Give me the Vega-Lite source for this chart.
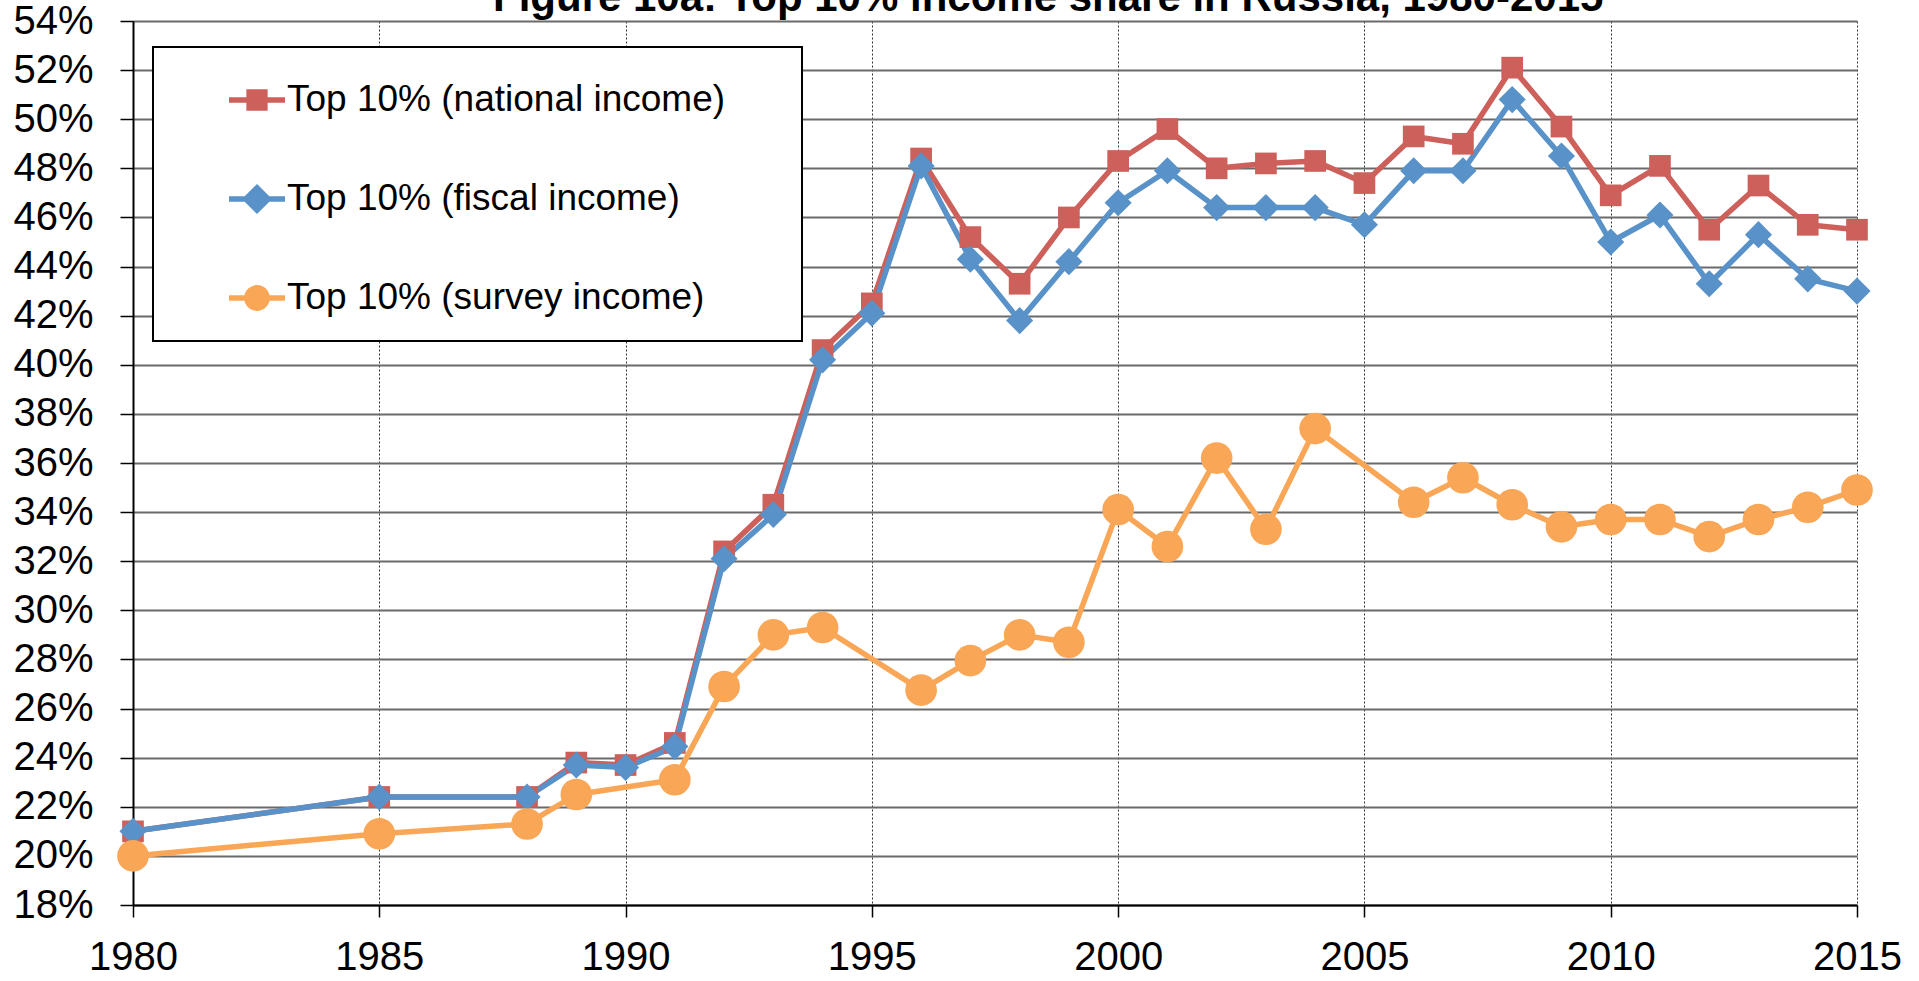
{
  "$schema": "https://vega.github.io/schema/vega-lite/v6.json",
  "width": 1724,
  "height": 884,
  "autosize": {"type": "none"},
  "padding": {"left": 133, "top": 21, "right": 62, "bottom": 76},
  "background": "white",
  "title": {
    "text": "Figure 10a: Top 10% income share in Russia, 1980-2015",
    "anchor": "start",
    "frame": "group",
    "dx": 360,
    "dy": 52,
    "offset": 0,
    "baseline": "alphabetic",
    "font": "Liberation Sans",
    "fontSize": 42,
    "fontWeight": "bold",
    "color": "black"
  },
  "data": {
    "values": [
      {"year": 1980, "series": "Top 10% (national income)", "value": 21.0},
      {"year": 1985, "series": "Top 10% (national income)", "value": 22.4},
      {"year": 1988, "series": "Top 10% (national income)", "value": 22.4},
      {"year": 1989, "series": "Top 10% (national income)", "value": 23.8},
      {"year": 1990, "series": "Top 10% (national income)", "value": 23.7},
      {"year": 1991, "series": "Top 10% (national income)", "value": 24.6},
      {"year": 1992, "series": "Top 10% (national income)", "value": 32.4},
      {"year": 1993, "series": "Top 10% (national income)", "value": 34.3},
      {"year": 1994, "series": "Top 10% (national income)", "value": 40.6},
      {"year": 1995, "series": "Top 10% (national income)", "value": 42.5},
      {"year": 1996, "series": "Top 10% (national income)", "value": 48.4},
      {"year": 1997, "series": "Top 10% (national income)", "value": 45.2},
      {"year": 1998, "series": "Top 10% (national income)", "value": 43.3},
      {"year": 1999, "series": "Top 10% (national income)", "value": 46.0},
      {"year": 2000, "series": "Top 10% (national income)", "value": 48.3},
      {"year": 2001, "series": "Top 10% (national income)", "value": 49.6},
      {"year": 2002, "series": "Top 10% (national income)", "value": 48.0},
      {"year": 2003, "series": "Top 10% (national income)", "value": 48.2},
      {"year": 2004, "series": "Top 10% (national income)", "value": 48.3},
      {"year": 2005, "series": "Top 10% (national income)", "value": 47.4},
      {"year": 2006, "series": "Top 10% (national income)", "value": 49.3},
      {"year": 2007, "series": "Top 10% (national income)", "value": 49.0},
      {"year": 2008, "series": "Top 10% (national income)", "value": 52.1},
      {"year": 2009, "series": "Top 10% (national income)", "value": 49.7},
      {"year": 2010, "series": "Top 10% (national income)", "value": 46.9},
      {"year": 2011, "series": "Top 10% (national income)", "value": 48.1},
      {"year": 2012, "series": "Top 10% (national income)", "value": 45.5},
      {"year": 2013, "series": "Top 10% (national income)", "value": 47.3},
      {"year": 2014, "series": "Top 10% (national income)", "value": 45.7},
      {"year": 2015, "series": "Top 10% (national income)", "value": 45.5},
      {"year": 1980, "series": "Top 10% (fiscal income)", "value": 21.0},
      {"year": 1985, "series": "Top 10% (fiscal income)", "value": 22.4},
      {"year": 1988, "series": "Top 10% (fiscal income)", "value": 22.4},
      {"year": 1989, "series": "Top 10% (fiscal income)", "value": 23.7},
      {"year": 1990, "series": "Top 10% (fiscal income)", "value": 23.6},
      {"year": 1991, "series": "Top 10% (fiscal income)", "value": 24.45},
      {"year": 1992, "series": "Top 10% (fiscal income)", "value": 32.1},
      {"year": 1993, "series": "Top 10% (fiscal income)", "value": 33.9},
      {"year": 1994, "series": "Top 10% (fiscal income)", "value": 40.2},
      {"year": 1995, "series": "Top 10% (fiscal income)", "value": 42.1},
      {"year": 1996, "series": "Top 10% (fiscal income)", "value": 48.1},
      {"year": 1997, "series": "Top 10% (fiscal income)", "value": 44.3},
      {"year": 1998, "series": "Top 10% (fiscal income)", "value": 41.8},
      {"year": 1999, "series": "Top 10% (fiscal income)", "value": 44.2},
      {"year": 2000, "series": "Top 10% (fiscal income)", "value": 46.6},
      {"year": 2001, "series": "Top 10% (fiscal income)", "value": 47.9},
      {"year": 2002, "series": "Top 10% (fiscal income)", "value": 46.4},
      {"year": 2003, "series": "Top 10% (fiscal income)", "value": 46.4},
      {"year": 2004, "series": "Top 10% (fiscal income)", "value": 46.4},
      {"year": 2005, "series": "Top 10% (fiscal income)", "value": 45.7},
      {"year": 2006, "series": "Top 10% (fiscal income)", "value": 47.9},
      {"year": 2007, "series": "Top 10% (fiscal income)", "value": 47.9},
      {"year": 2008, "series": "Top 10% (fiscal income)", "value": 50.8},
      {"year": 2009, "series": "Top 10% (fiscal income)", "value": 48.5},
      {"year": 2010, "series": "Top 10% (fiscal income)", "value": 45.0},
      {"year": 2011, "series": "Top 10% (fiscal income)", "value": 46.1},
      {"year": 2012, "series": "Top 10% (fiscal income)", "value": 43.3},
      {"year": 2013, "series": "Top 10% (fiscal income)", "value": 45.3},
      {"year": 2014, "series": "Top 10% (fiscal income)", "value": 43.5},
      {"year": 2015, "series": "Top 10% (fiscal income)", "value": 43.0},
      {"year": 1980, "series": "Top 10% (survey income)", "value": 20.0},
      {"year": 1985, "series": "Top 10% (survey income)", "value": 20.9},
      {"year": 1988, "series": "Top 10% (survey income)", "value": 21.3},
      {"year": 1989, "series": "Top 10% (survey income)", "value": 22.5},
      {"year": 1991, "series": "Top 10% (survey income)", "value": 23.1},
      {"year": 1992, "series": "Top 10% (survey income)", "value": 26.9},
      {"year": 1993, "series": "Top 10% (survey income)", "value": 29.0},
      {"year": 1994, "series": "Top 10% (survey income)", "value": 29.3},
      {"year": 1996, "series": "Top 10% (survey income)", "value": 26.75},
      {"year": 1997, "series": "Top 10% (survey income)", "value": 27.95},
      {"year": 1998, "series": "Top 10% (survey income)", "value": 29.0},
      {"year": 1999, "series": "Top 10% (survey income)", "value": 28.7},
      {"year": 2000, "series": "Top 10% (survey income)", "value": 34.1},
      {"year": 2001, "series": "Top 10% (survey income)", "value": 32.6},
      {"year": 2002, "series": "Top 10% (survey income)", "value": 36.2},
      {"year": 2003, "series": "Top 10% (survey income)", "value": 33.3},
      {"year": 2004, "series": "Top 10% (survey income)", "value": 37.4},
      {"year": 2006, "series": "Top 10% (survey income)", "value": 34.4},
      {"year": 2007, "series": "Top 10% (survey income)", "value": 35.4},
      {"year": 2008, "series": "Top 10% (survey income)", "value": 34.3},
      {"year": 2009, "series": "Top 10% (survey income)", "value": 33.4},
      {"year": 2010, "series": "Top 10% (survey income)", "value": 33.7},
      {"year": 2011, "series": "Top 10% (survey income)", "value": 33.7},
      {"year": 2012, "series": "Top 10% (survey income)", "value": 33.0},
      {"year": 2013, "series": "Top 10% (survey income)", "value": 33.7},
      {"year": 2014, "series": "Top 10% (survey income)", "value": 34.2},
      {"year": 2015, "series": "Top 10% (survey income)", "value": 34.9}
    ]
  },
  "encoding": {
    "x": {
      "field": "year",
      "type": "quantitative",
      "scale": {"domain": [1980, 2015], "nice": false, "zero": false},
      "axis": {
        "title": null,
        "values": [1980, 1985, 1990, 1995, 2000, 2005, 2010, 2015],
        "format": "d",
        "grid": true,
        "gridDash": [2, 2],
        "gridColor": "#333333",
        "gridWidth": 1,
        "tickSize": 12,
        "labelPadding": 20,
        "labelFlush": false,
        "labelOverlap": false
      }
    },
    "y": {
      "field": "value",
      "type": "quantitative",
      "scale": {"domain": [18, 54], "nice": false, "zero": false},
      "axis": {
        "title": null,
        "values": [18, 20, 22, 24, 26, 28, 30, 32, 34, 36, 38, 40, 42, 44, 46, 48, 50, 52, 54],
        "labelExpr": "datum.value + '%'",
        "grid": true,
        "gridColor": "#6a6a6a",
        "gridWidth": 2,
        "tickSize": 13,
        "labelPadding": 27,
        "labelFlush": false,
        "labelOverlap": false
      }
    }
  },
  "layer": [
    {
      "mark": {"type": "line", "strokeWidth": 5.5, "strokeJoin": "round"},
      "encoding": {
        "color": {
          "field": "series",
          "type": "nominal",
          "scale": {
            "domain": ["Top 10% (national income)", "Top 10% (fiscal income)", "Top 10% (survey income)"],
            "range": ["#CD605A", "#5892C8", "#F9A656"]
          },
          "legend": null
        }
      }
    },
    {
      "mark": {"type": "point", "filled": true, "opacity": 1},
      "encoding": {
        "color": {
          "field": "series",
          "type": "nominal",
          "scale": {
            "domain": ["Top 10% (national income)", "Top 10% (fiscal income)", "Top 10% (survey income)"],
            "range": ["#CD605A", "#5892C8", "#F9A656"]
          },
          "legend": null
        },
        "shape": {
          "field": "series",
          "type": "nominal",
          "scale": {
            "domain": ["Top 10% (national income)", "Top 10% (fiscal income)", "Top 10% (survey income)"],
            "range": ["square", "diamond", "circle"]
          },
          "legend": null
        },
        "size": {
          "field": "series",
          "type": "nominal",
          "scale": {
            "domain": ["Top 10% (national income)", "Top 10% (fiscal income)", "Top 10% (survey income)"],
            "range": [470, 1000, 660]
          },
          "legend": null
        }
      }
    },
    {
      "transform": [{"filter": "datum.year < 0"}],
      "mark": {"type": "point", "filled": true, "opacity": 1},
      "encoding": {
        "color": {
          "field": "series",
          "type": "nominal",
          "scale": {
            "domain": ["Top 10% (national income)", "Top 10% (fiscal income)", "Top 10% (survey income)"],
            "range": ["#CD605A", "#5892C8", "#F9A656"]
          },
          "legend": {
            "orient": "none",
            "legendX": 20,
            "legendY": 26,
            "title": "\u00a0",
            "titleOrient": "right",
            "titlePadding": 52,
            "titleFontSize": 4,
            "padding": 25,
            "rowPadding": 53,
            "symbolSize": 3136,
            "symbolOffset": 51,
            "labelOffset": 2,
            "labelFont": "Liberation Sans",
            "labelFontSize": 37,
            "labelColor": "black",
            "labelLimit": 1000,
            "fillColor": "white",
            "strokeColor": "black",
            "symbolOpacity": 1,
            "symbolStrokeWidth": 0
          }
        },
        "shape": {
          "field": "series",
          "type": "nominal",
          "scale": {
            "domain": ["Top 10% (national income)", "Top 10% (fiscal income)", "Top 10% (survey income)"],
            "range": [
              "M-1,-0.1L-0.38,-0.1L-0.38,-0.38L0.38,-0.38L0.38,-0.1L1,-0.1L1,0.1L0.38,0.1L0.38,0.38L-0.38,0.38L-0.38,0.1L-1,0.1Z",
              "M-1,-0.1L-0.44,-0.1L0,-0.54L0.44,-0.1L1,-0.1L1,0.1L0.44,0.1L0,0.54L-0.44,0.1L-1,0.1Z",
              "M-1,-0.1L-0.449,-0.1A0.46,0.46 0 0,1 0.449,-0.1L1,-0.1L1,0.1L0.449,0.1A0.46,0.46 0 0,1 -0.449,0.1L-1,0.1Z"
            ]
          },
          "legend": {
            "orient": "none",
            "legendX": 20,
            "legendY": 26,
            "title": "\u00a0",
            "titleOrient": "right",
            "titlePadding": 52,
            "titleFontSize": 4,
            "padding": 25,
            "rowPadding": 53,
            "symbolSize": 3136,
            "symbolOffset": 51,
            "labelOffset": 2,
            "labelFont": "Liberation Sans",
            "labelFontSize": 37,
            "labelColor": "black",
            "labelLimit": 1000,
            "fillColor": "white",
            "strokeColor": "black",
            "symbolOpacity": 1,
            "symbolStrokeWidth": 0
          }
        }
      }
    }
  ],
  "resolve": {"scale": {"color": "independent", "shape": "independent", "size": "independent"}},
  "config": {
    "view": {"stroke": null},
    "axis": {
      "labelFont": "Liberation Sans",
      "labelFontSize": 40,
      "labelColor": "black",
      "domainColor": "black",
      "domainWidth": 2,
      "tickColor": "black",
      "tickWidth": 1.5
    },
    "legend": {"strokeWidth": 2}
  }
}
